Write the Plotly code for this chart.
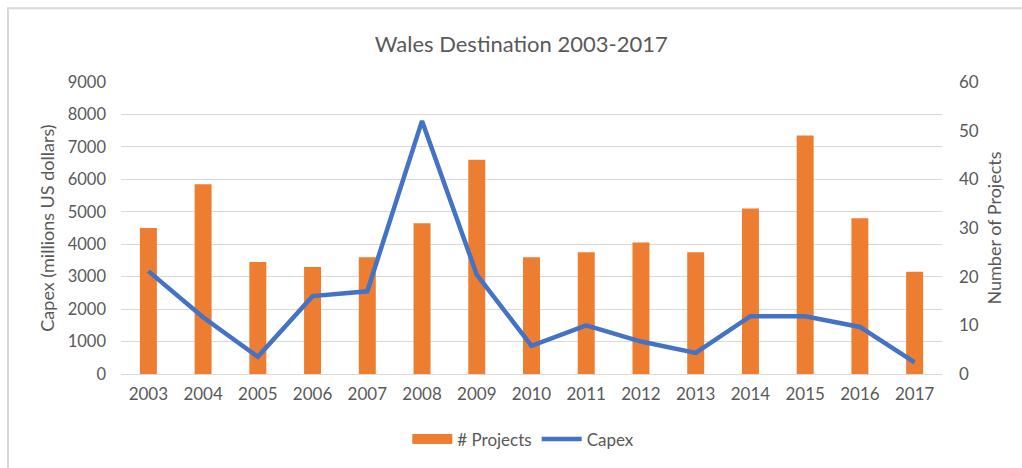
import plotly.graph_objects as go

years = [str(y) for y in range(2003, 2018)]
projects = [30, 39, 23, 22, 24, 31, 44, 24, 25, 27, 25, 34, 49, 32, 21]
capex = [3170, 1750, 530, 2400, 2550, 7800, 3060, 870, 1500, 1000, 650, 1780, 1780, 1450, 360]

capex_ticks = list(range(0, 9001, 1000))
project_ticks = list(range(0, 61, 10))

orange = '#ED7D31'
blue = '#4472C4'
grey_txt = '#595959'
grid = '#D9D9D9'
font_name = 'Lato'

fig = go.Figure()

# bars on the right-hand axis (y), line on the overlaying left axis (y2) so the line sits on top
fig.add_trace(go.Bar(x=years, y=projects, name='# Projects', marker=dict(color=orange, line=dict(width=0)),
                     yaxis='y', showlegend=False, legendgroup='p'))
# legend-only entry so the swatch is a wide block like Excel's
fig.add_trace(go.Scatter(x=[years[0]], y=[None], name='# Projects', mode='lines', legendgroup='p',
                         line=dict(color=orange, width=10), yaxis='y'))
fig.add_trace(go.Scatter(x=years, y=capex, name='Capex', mode='lines', line=dict(color=blue, width=4.5),
                         yaxis='y2'))

fig.update_layout(
    width=1022, height=468,
    margin=dict(l=121, r=80, t=82, b=93),
    paper_bgcolor='white', plot_bgcolor='white',
    font=dict(family=font_name, color=grey_txt, size=16),
    title=dict(text='Wales Destination 2003-2017', x=0.51, xanchor='center', y=0.905, yanchor='middle',
               font=dict(size=22, color=grey_txt, family=font_name)),
    bargap=0.69,
    showlegend=True,
    legend=dict(orientation='h', x=0.49, xanchor='center', y=-0.22, yanchor='middle',
                font=dict(size=17, color=grey_txt), traceorder='normal', itemwidth=40),
    xaxis=dict(type='category', showgrid=False, showline=False, ticks='', ticklabelstandoff=8,
               tickfont=dict(size=17, color=grey_txt)),
    yaxis=dict(side='right', range=[0, 60], tickvals=project_ticks, showgrid=False, zeroline=False,
               showline=False, ticks='', ticklabelstandoff=16,
               title=dict(text='Number of Projects', font=dict(size=18, color=grey_txt), standoff=10),
               tickfont=dict(size=17, color=grey_txt)),
    yaxis2=dict(side='left', overlaying='y', range=[0, 9000], tickvals=capex_ticks, showgrid=True,
                gridcolor=grid, gridwidth=1, zeroline=True, zerolinecolor=grid, zerolinewidth=1,
                showline=False, ticks='', ticklabelstandoff=14,
                title=dict(text='Capex (millions US dollars)', font=dict(size=18, color=grey_txt), standoff=8),
                tickfont=dict(size=16.5, color=grey_txt)),
    shapes=[dict(type='rect', xref='paper', yref='paper', x0=(8 - 121) / 821, x1=1.3, y0=-0.5,
                 y1=(375 - 8) / 293, line=dict(color=grid, width=2), fillcolor='rgba(0,0,0,0)', layer='below')],
)

fig.write_html('out.html', config={'displayModeBar': False},
               post_script="document.body.style.margin='0';document.body.style.overflow='hidden';")
